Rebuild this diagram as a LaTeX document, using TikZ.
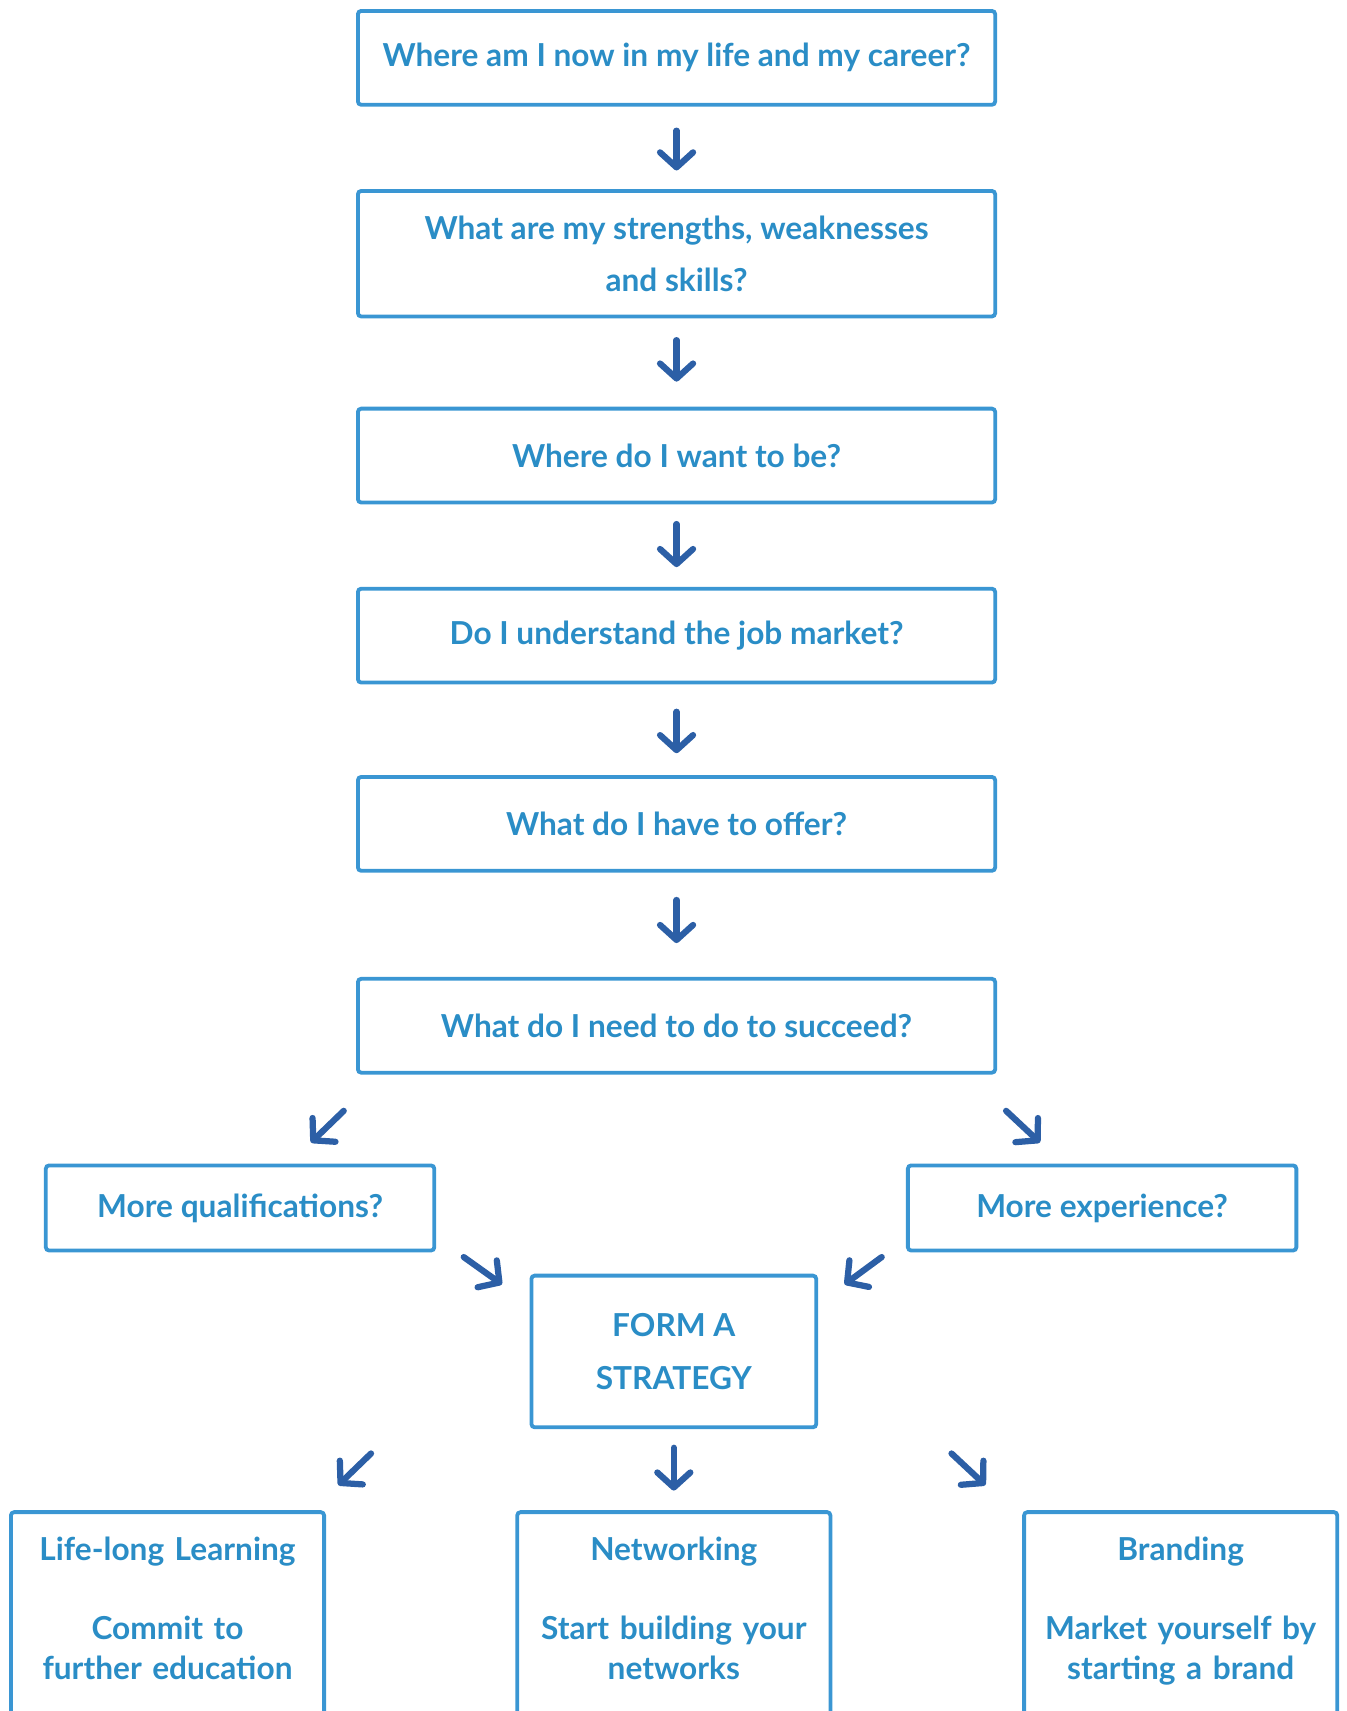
\documentclass[tikz,border=0pt]{standalone}
\usepackage{fontspec}
\setmainfont{Lato}
\usetikzlibrary{arrows.meta}
\definecolor{boxblue}{HTML}{3A96D3}
\definecolor{txtblue}{HTML}{2A8DC6}
\definecolor{arrblue}{HTML}{2C5FA6}
\newcommand{\pxu}{0.02182cm}

\begin{document}
\begin{tikzpicture}[x=\pxu, y=-\pxu,
  box/.style={draw=boxblue, line width=3.5*\pxu, rounded corners=3*\pxu,
    text=txtblue, align=center, inner sep=0pt,
    font=\fontsize{18}{29.8}\selectfont\bfseries},
  qbox/.style={box, minimum width=584*\pxu, minimum height=86*\pxu},
  sidebox/.style={box, minimum width=356*\pxu, minimum height=78*\pxu},
  endbox/.style={box, anchor=north, text width=287*\pxu,
    text height=44*\pxu, text depth=260*\pxu,
    font=\fontsize{18}{22.9}\selectfont\bfseries},
  flow/.style={draw=arrblue, line width=0.125cm, line cap=round,
    -{Straight Barb[length=0.3cm, width=0.66cm, round]}}]
  \useasboundingbox (0,0) rectangle (1234,1568);
  \clip (0,0) rectangle (1234,1568);

  % questions
  \node[qbox] (b1) at (620,53) {Where am I now in my life and my career?};
  \node[qbox, minimum height=115*\pxu] (b2) at (620,232.5)
    {What are my strengths, weaknesses\\and skills?};
  \node[qbox] (b3) at (620,417.5) {Where do I want to be?};
  \node[qbox] (b4) at (620,582.5) {Do I understand the job market?};
  \node[qbox] (b5) at (620,755) {What do I have to offer?};
  \node[qbox] (b6) at (620,940) {What do I need to do to succeed?};

  \node[sidebox] (ql) at (220,1107) {More qualifications?};
  \node[sidebox] (qr) at (1010,1107) {More experience?};
  \node[box, minimum width=261*\pxu, minimum height=139*\pxu] (st) at (617.5,1238.5)
    {FORM A\\STRATEGY};

  % outcomes
  \node[endbox] (bl) at (153.5,1384)
    {Life-long Learning\\[22pt]Commit to\\further education};
  \node[endbox] (bc) at (617.5,1384)
    {Networking\\[22pt]Start building your\\networks};
  \node[endbox] (br) at (1082,1384)
    {Branding\\[22pt]Market yourself by\\starting a brand};

  % arrows
  \draw[flow, shorten <=0.48cm, shorten >=0.371cm] (b1) -- (b2);
  \draw[flow, shorten <=0.436cm, shorten >=0.502cm] (b2) -- (b3);
  \draw[flow, shorten <=0.393cm, shorten >=0.393cm] (b3) -- (b4);
  \draw[flow, shorten <=0.546cm, shorten >=0.436cm] (b4) -- (b5);
  \draw[flow, shorten <=0.546cm, shorten >=0.676cm] (b5) -- (b6);
  \draw[flow, shorten <=0.371cm, shorten >=0.393cm] (st) -- (bc);

  \coordinate (l6s) at (315,1018);
  \coordinate (l6e) at (285,1047);
  \coordinate (r6s) at (922,1018);
  \coordinate (r6e) at (953,1047);
  \coordinate (qls) at (425,1152);
  \coordinate (qle) at (460,1177);
  \coordinate (qrs) at (808,1152);
  \coordinate (qre) at (774,1177);
  \coordinate (sls) at (340,1332);
  \coordinate (sle) at (310,1361);
  \coordinate (srs) at (872,1332);
  \coordinate (sre) at (903,1361);
  \draw[flow] (l6s) -- (l6e);
  \draw[flow] (r6s) -- (r6e);
  \draw[flow] (qls) -- (qle);
  \draw[flow] (qrs) -- (qre);
  \draw[flow] (sls) -- (sle);
  \draw[flow] (srs) -- (sre);
\end{tikzpicture}
\end{document}
